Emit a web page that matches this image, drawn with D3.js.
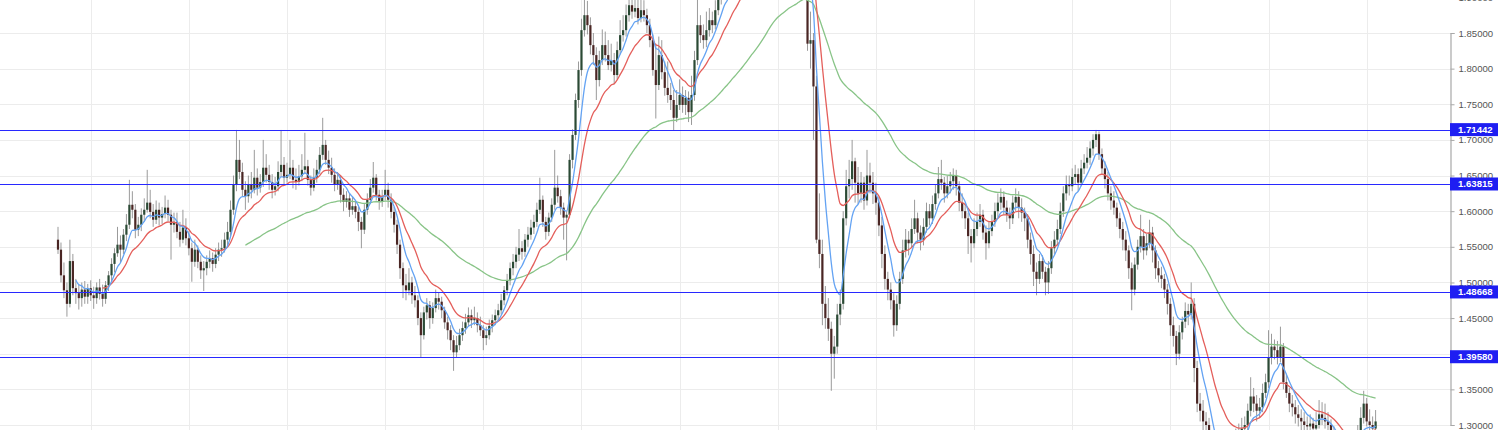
<!DOCTYPE html>
<html><head><meta charset="utf-8">
<script src="https://cdn.jsdelivr.net/npm/d3@7"></script>
<style>html,body{margin:0;padding:0;background:#fff;overflow:hidden}svg{display:block}</style>
</head><body>
<svg id="chart" width="1500" height="430"></svg>
<script>
const opens = [
1.560,1.546,1.510,1.489,1.470,1.530,1.492,1.485,1.478,1.490,
1.480,1.492,1.482,1.478,1.493,1.484,1.477,1.496,1.510,1.526,
1.541,1.553,1.546,1.567,1.581,1.609,1.602,1.574,1.581,1.595,
1.602,1.612,1.599,1.588,1.602,1.591,1.596,1.605,1.595,1.581,
1.585,1.571,1.560,1.577,1.562,1.548,1.529,1.546,1.529,1.517,
1.520,1.529,1.534,1.526,1.539,1.546,1.548,1.560,1.571,1.602,
1.637,1.672,1.655,1.630,1.621,1.637,1.630,1.647,1.633,1.641,
1.661,1.651,1.641,1.630,1.635,1.655,1.665,1.647,1.651,1.661,
1.644,1.641,1.649,1.658,1.663,1.644,1.633,1.647,1.658,1.679,
1.693,1.672,1.661,1.651,1.637,1.644,1.623,1.613,1.618,1.602,
1.607,1.599,1.585,1.574,1.602,1.616,1.633,1.647,1.623,1.613,
1.621,1.630,1.616,1.599,1.581,1.553,1.520,1.496,1.489,1.500,
1.482,1.475,1.450,1.426,1.458,1.468,1.450,1.464,1.478,1.473,
1.461,1.444,1.433,1.419,1.402,1.412,1.426,1.436,1.444,1.454,
1.447,1.450,1.440,1.433,1.422,1.426,1.439,1.447,1.454,1.461,
1.475,1.489,1.503,1.520,1.529,1.539,1.548,1.543,1.560,1.567,
1.577,1.585,1.602,1.616,1.585,1.571,1.591,1.609,1.633,1.621,
1.605,1.591,1.595,1.672,1.707,1.756,1.798,1.854,1.875,1.861,
1.833,1.819,1.784,1.812,1.833,1.819,1.805,1.812,1.791,1.826,
1.847,1.854,1.875,1.889,1.880,1.885,1.871,1.882,1.875,1.861,
1.840,1.798,1.777,1.819,1.795,1.773,1.763,1.756,1.731,1.749,
1.763,1.749,1.759,1.739,1.763,1.812,1.861,1.847,1.840,1.854,
1.868,1.861,1.882,1.900,1.912,1.925,1.918,1.935,1.945,1.938,
1.952,1.960,1.975,1.990,2.000,1.985,2.005,2.025,2.040,2.060,
2.080,2.070,2.040,2.020,1.990,1.975,1.990,1.985,1.970,1.960,
1.985,1.980,1.960,1.835,1.840,1.775,1.560,1.540,1.470,1.450,
1.435,1.400,1.410,1.455,1.470,1.590,1.635,1.645,1.670,1.640,
1.625,1.640,1.615,1.650,1.640,1.625,1.612,1.580,1.540,1.505,
1.490,1.475,1.440,1.470,1.505,1.545,1.560,1.555,1.575,1.590,
1.570,1.560,1.578,1.600,1.590,1.610,1.625,1.645,1.640,1.625,
1.635,1.642,1.650,1.635,1.612,1.600,1.590,1.565,1.555,1.575,
1.585,1.595,1.570,1.555,1.572,1.585,1.600,1.612,1.620,1.605,
1.595,1.590,1.612,1.620,1.605,1.598,1.590,1.560,1.540,1.515,
1.505,1.530,1.515,1.500,1.520,1.548,1.560,1.575,1.600,1.625,
1.638,1.635,1.648,1.652,1.640,1.660,1.668,1.675,1.688,1.700,
1.708,1.680,1.660,1.645,1.625,1.615,1.605,1.590,1.575,1.560,
1.545,1.520,1.490,1.525,1.550,1.565,1.545,1.555,1.570,1.545,
1.520,1.510,1.505,1.490,1.470,1.440,1.425,1.400,1.430,1.445,
1.460,1.455,1.470,1.380,1.330,1.320,1.305,1.300,1.270,1.245,
1.230,1.240,1.225,1.250,1.240,1.255,1.270,1.280,1.285,1.295,
1.300,1.320,1.340,1.330,1.320,1.325,1.345,1.360,1.395,1.410,
1.405,1.395,1.410,1.360,1.345,1.330,1.325,1.315,1.310,1.305,
1.300,1.298,1.302,1.295,1.300,1.315,1.310,1.305,1.300,1.290,
1.280,1.270,1.260,1.250,1.240,1.245,1.255,1.275,1.290,1.310,
1.330,1.305,1.300,1.295];
const highs = [
1.578,1.556,1.528,1.500,1.560,1.540,1.505,1.498,1.500,1.502,
1.498,1.503,1.494,1.500,1.505,1.497,1.502,1.516,1.534,1.548,
1.578,1.566,1.575,1.596,1.644,1.628,1.610,1.592,1.604,1.618,
1.658,1.630,1.610,1.615,1.612,1.606,1.622,1.616,1.602,1.598,
1.598,1.585,1.602,1.590,1.572,1.556,1.560,1.552,1.538,1.530,
1.538,1.545,1.542,1.548,1.556,1.560,1.570,1.585,1.615,1.650,
1.714,1.700,1.668,1.642,1.650,1.655,1.686,1.660,1.652,1.700,
1.680,1.665,1.652,1.648,1.670,1.714,1.676,1.668,1.700,1.672,
1.660,1.665,1.680,1.710,1.672,1.650,1.660,1.672,1.690,1.731,
1.700,1.685,1.675,1.660,1.655,1.650,1.632,1.628,1.625,1.620,
1.615,1.606,1.592,1.610,1.625,1.645,1.669,1.652,1.630,1.630,
1.658,1.640,1.625,1.606,1.588,1.560,1.528,1.512,1.520,1.508,
1.495,1.482,1.458,1.466,1.478,1.474,1.472,1.490,1.486,1.480,
1.466,1.452,1.440,1.426,1.425,1.435,1.445,1.456,1.465,1.462,
1.466,1.458,1.452,1.440,1.438,1.448,1.455,1.462,1.470,1.484,
1.495,1.512,1.528,1.540,1.550,1.575,1.558,1.568,1.578,1.588,
1.595,1.612,1.647,1.622,1.592,1.598,1.618,1.686,1.650,1.630,
1.612,1.600,1.680,1.715,1.765,1.810,1.870,1.900,1.895,1.872,
1.850,1.830,1.825,1.855,1.852,1.840,1.835,1.822,1.838,1.868,
1.875,1.890,1.910,1.905,1.915,1.898,1.905,1.896,1.884,1.870,
1.848,1.835,1.845,1.840,1.810,1.810,1.780,1.770,1.770,1.785,
1.775,1.770,1.768,1.790,1.825,1.900,1.875,1.862,1.880,1.885,
1.880,1.896,1.912,1.925,1.935,1.938,1.948,1.960,1.958,1.968,
1.975,1.990,2.005,2.015,2.010,2.020,2.040,2.055,2.075,2.110,
2.095,2.080,2.050,2.030,2.000,2.005,2.000,1.995,1.985,2.000,
1.995,1.990,1.975,1.880,1.850,1.790,1.625,1.560,1.495,1.478,
1.445,1.425,1.470,1.490,1.600,1.658,1.672,1.700,1.675,1.662,
1.655,1.648,1.686,1.668,1.655,1.640,1.620,1.592,1.552,1.515,
1.500,1.485,1.482,1.515,1.560,1.575,1.572,1.590,1.616,1.598,
1.580,1.590,1.612,1.610,1.622,1.638,1.662,1.672,1.648,1.650,
1.655,1.660,1.658,1.642,1.625,1.612,1.598,1.575,1.590,1.598,
1.610,1.602,1.580,1.585,1.595,1.612,1.625,1.632,1.628,1.615,
1.605,1.622,1.632,1.628,1.618,1.605,1.596,1.570,1.552,1.528,
1.540,1.538,1.522,1.530,1.558,1.572,1.588,1.612,1.635,1.650,
1.650,1.660,1.665,1.660,1.672,1.680,1.690,1.698,1.708,1.714,
1.712,1.688,1.670,1.655,1.635,1.628,1.612,1.598,1.585,1.572,
1.552,1.528,1.535,1.560,1.595,1.575,1.568,1.588,1.578,1.552,
1.530,1.522,1.512,1.498,1.478,1.452,1.432,1.440,1.452,1.472,
1.470,1.500,1.478,1.390,1.345,1.335,1.318,1.310,1.280,1.262,
1.262,1.250,1.262,1.260,1.268,1.285,1.295,1.302,1.310,1.312,
1.330,1.367,1.352,1.342,1.338,1.358,1.372,1.433,1.428,1.420,
1.418,1.438,1.415,1.372,1.352,1.342,1.335,1.328,1.322,1.318,
1.312,1.315,1.310,1.318,1.335,1.332,1.330,1.318,1.308,1.298,
1.290,1.282,1.272,1.262,1.258,1.268,1.285,1.300,1.325,1.348,
1.338,1.322,1.312,1.321];
const lows = [
1.540,1.500,1.478,1.452,1.465,1.482,1.470,1.462,1.466,1.470,
1.470,1.474,1.463,1.470,1.476,1.466,1.470,1.488,1.502,1.514,
1.536,1.528,1.540,1.558,1.575,1.590,1.562,1.565,1.572,1.585,
1.598,1.590,1.578,1.582,1.580,1.582,1.590,1.586,1.532,1.570,
1.562,1.550,1.555,1.552,1.538,1.501,1.522,1.520,1.505,1.488,
1.510,1.520,1.515,1.520,1.530,1.536,1.542,1.552,1.565,1.595,
1.628,1.645,1.620,1.602,1.612,1.618,1.625,1.622,1.626,1.634,
1.640,1.630,1.618,1.622,1.628,1.648,1.636,1.640,1.645,1.632,
1.630,1.636,1.642,1.652,1.636,1.622,1.628,1.640,1.652,1.672,
1.665,1.652,1.640,1.628,1.630,1.612,1.600,1.605,1.592,1.595,
1.590,1.572,1.548,1.568,1.595,1.610,1.626,1.615,1.602,1.606,
1.615,1.605,1.590,1.570,1.540,1.505,1.478,1.475,1.482,1.470,
1.465,1.440,1.394,1.420,1.448,1.435,1.442,1.458,1.462,1.450,
1.435,1.420,1.405,1.376,1.394,1.405,1.418,1.428,1.438,1.436,
1.440,1.430,1.425,1.405,1.412,1.420,1.430,1.440,1.446,1.455,
1.468,1.482,1.496,1.510,1.520,1.530,1.532,1.536,1.550,1.560,
1.568,1.578,1.596,1.578,1.560,1.565,1.585,1.602,1.612,1.595,
1.560,1.531,1.590,1.660,1.700,1.745,1.790,1.845,1.848,1.820,
1.805,1.756,1.775,1.805,1.810,1.798,1.796,1.778,1.785,1.820,
1.838,1.845,1.866,1.870,1.872,1.862,1.865,1.866,1.850,1.830,
1.790,1.730,1.770,1.785,1.762,1.752,1.742,1.713,1.725,1.742,
1.738,1.735,1.725,1.721,1.755,1.805,1.836,1.828,1.830,1.845,
1.850,1.855,1.875,1.890,1.902,1.905,1.910,1.925,1.925,1.930,
1.940,1.950,1.965,1.978,1.970,1.975,1.995,2.015,2.030,2.050,
2.055,2.030,2.005,1.975,1.960,1.965,1.970,1.955,1.945,1.955,
1.965,1.950,1.825,1.800,1.700,1.555,1.520,1.440,1.435,1.418,
1.348,1.365,1.400,1.440,1.462,1.580,1.618,1.630,1.612,1.610,
1.612,1.602,1.608,1.625,1.610,1.595,1.565,1.520,1.490,1.475,
1.462,1.424,1.432,1.462,1.498,1.535,1.538,1.548,1.568,1.555,
1.545,1.552,1.570,1.580,1.582,1.602,1.618,1.630,1.612,1.618,
1.625,1.630,1.622,1.600,1.590,1.575,1.540,1.528,1.548,1.565,
1.578,1.560,1.532,1.548,1.565,1.578,1.592,1.602,1.595,1.585,
1.575,1.582,1.600,1.590,1.585,1.572,1.548,1.525,1.495,1.482,
1.498,1.505,1.482,1.484,1.512,1.540,1.552,1.568,1.592,1.615,
1.622,1.628,1.638,1.628,1.635,1.652,1.660,1.665,1.678,1.690,
1.672,1.652,1.632,1.615,1.602,1.595,1.578,1.562,1.545,1.530,
1.505,1.461,1.482,1.518,1.542,1.532,1.538,1.548,1.528,1.505,
1.500,1.492,1.478,1.455,1.425,1.410,1.384,1.392,1.420,1.436,
1.440,1.448,1.360,1.318,1.305,1.292,1.285,1.255,1.200,1.210,
1.220,1.200,1.218,1.225,1.232,1.248,1.262,1.272,1.278,1.285,
1.290,1.312,1.318,1.305,1.310,1.318,1.338,1.352,1.385,1.392,
1.385,1.388,1.350,1.338,1.318,1.312,1.302,1.298,1.292,1.290,
1.288,1.290,1.285,1.288,1.295,1.300,1.295,1.290,1.278,1.268,
1.262,1.252,1.240,1.228,1.232,1.238,1.250,1.268,1.282,1.302,
1.298,1.292,1.285,1.290];
const closes = [
1.546,1.510,1.489,1.470,1.530,1.492,1.485,1.478,1.490,1.480,
1.492,1.482,1.478,1.493,1.484,1.477,1.496,1.510,1.526,1.541,
1.553,1.546,1.567,1.581,1.609,1.602,1.574,1.581,1.595,1.602,
1.612,1.599,1.588,1.602,1.591,1.596,1.605,1.595,1.581,1.585,
1.571,1.560,1.577,1.562,1.548,1.529,1.546,1.529,1.517,1.520,
1.529,1.534,1.526,1.539,1.546,1.548,1.560,1.571,1.602,1.637,
1.672,1.655,1.630,1.621,1.637,1.630,1.647,1.633,1.641,1.661,
1.651,1.641,1.630,1.635,1.655,1.665,1.647,1.651,1.661,1.644,
1.641,1.649,1.658,1.663,1.644,1.633,1.647,1.658,1.679,1.693,
1.672,1.661,1.651,1.637,1.644,1.623,1.613,1.618,1.602,1.607,
1.599,1.585,1.574,1.602,1.616,1.633,1.647,1.623,1.613,1.621,
1.630,1.616,1.599,1.581,1.553,1.520,1.496,1.489,1.500,1.482,
1.475,1.450,1.426,1.458,1.468,1.450,1.464,1.478,1.473,1.461,
1.444,1.433,1.419,1.402,1.412,1.426,1.436,1.444,1.454,1.447,
1.450,1.440,1.433,1.422,1.426,1.439,1.447,1.454,1.461,1.475,
1.489,1.503,1.520,1.529,1.539,1.548,1.543,1.560,1.567,1.577,
1.585,1.602,1.616,1.585,1.571,1.591,1.609,1.633,1.621,1.605,
1.591,1.595,1.672,1.707,1.756,1.798,1.854,1.875,1.861,1.833,
1.819,1.784,1.812,1.833,1.819,1.805,1.812,1.791,1.826,1.847,
1.854,1.875,1.889,1.880,1.885,1.871,1.882,1.875,1.861,1.840,
1.798,1.777,1.819,1.795,1.773,1.763,1.756,1.731,1.749,1.763,
1.749,1.759,1.739,1.763,1.812,1.861,1.847,1.840,1.854,1.868,
1.861,1.882,1.900,1.912,1.925,1.918,1.935,1.945,1.938,1.952,
1.960,1.975,1.990,2.000,1.985,2.005,2.025,2.040,2.060,2.080,
2.070,2.040,2.020,1.990,1.975,1.990,1.985,1.970,1.960,1.985,
1.980,1.960,1.835,1.840,1.775,1.560,1.540,1.470,1.450,1.435,
1.400,1.410,1.455,1.470,1.590,1.635,1.645,1.670,1.640,1.625,
1.640,1.615,1.650,1.640,1.625,1.612,1.580,1.540,1.505,1.490,
1.475,1.440,1.470,1.505,1.545,1.560,1.555,1.575,1.590,1.570,
1.560,1.578,1.600,1.590,1.610,1.625,1.645,1.640,1.625,1.635,
1.642,1.650,1.635,1.612,1.600,1.590,1.565,1.555,1.575,1.585,
1.595,1.570,1.555,1.572,1.585,1.600,1.612,1.620,1.605,1.595,
1.590,1.612,1.620,1.605,1.598,1.590,1.560,1.540,1.515,1.505,
1.530,1.515,1.500,1.520,1.548,1.560,1.575,1.600,1.625,1.638,
1.635,1.648,1.652,1.640,1.660,1.668,1.675,1.688,1.700,1.708,
1.680,1.660,1.645,1.625,1.615,1.605,1.590,1.575,1.560,1.545,
1.520,1.490,1.525,1.550,1.565,1.545,1.555,1.570,1.545,1.520,
1.510,1.505,1.490,1.470,1.440,1.425,1.400,1.430,1.445,1.460,
1.455,1.470,1.380,1.330,1.320,1.305,1.300,1.270,1.245,1.230,
1.240,1.225,1.250,1.240,1.255,1.270,1.280,1.285,1.295,1.300,
1.320,1.340,1.330,1.320,1.325,1.345,1.360,1.395,1.410,1.405,
1.395,1.410,1.360,1.345,1.330,1.325,1.315,1.310,1.305,1.300,
1.298,1.302,1.295,1.300,1.315,1.310,1.305,1.300,1.290,1.280,
1.270,1.260,1.250,1.240,1.245,1.255,1.275,1.290,1.310,1.330,
1.305,1.300,1.295,1.305];

// y-axis tick labels (price levels)
const priceTicks = [1.30,1.35,1.40,1.45,1.50,1.55,1.60,1.65,1.70,1.75,1.80,1.85,1.90];
// vertical grid positions (bar index)
const timeTicks = [11,44,77,110,143,176,209,242,275,308,341,374,407,440];
// horizontal levels drawn on chart
const levels = [1.71442,1.63815,1.48668,1.39580];
// moving-average lengths (in bars)
const maFast = 7, maMid = 16, maSlow = 64;

const W = 1500, H = 430, axisX = 1450;
const svg = d3.select('#chart');
const n = closes.length;
const x = d3.scaleLinear().domain([0, n - 1]).range([58, 1375.6]);
const y = d3.scaleLinear().domain([1.30, 1.85]).range([425, 33]);

svg.append('defs').append('clipPath').attr('id', 'clip')
  .append('rect').attr('x', 0).attr('y', 0).attr('width', axisX).attr('height', H);

// grid
const grid = svg.append('g');
grid.selectAll('line.h').data(priceTicks).join('line')
  .attr('x1', 0).attr('x2', axisX)
  .attr('y1', d => Math.round(y(d)) + 0.5).attr('y2', d => Math.round(y(d)) + 0.5)
  .attr('stroke', '#ececec').attr('stroke-width', 1);
grid.selectAll('line.v').data(timeTicks).join('line')
  .attr('y1', 0).attr('y2', H)
  .attr('x1', d => Math.round(x(d)) + 0.5).attr('x2', d => Math.round(x(d)) + 0.5)
  .attr('stroke', '#ececec').attr('stroke-width', 1);

const plot = svg.append('g').attr('clip-path', 'url(#clip)');

// candles
const idx = d3.range(n);
plot.append('g').selectAll('line').data(idx).join('line')
  .attr('x1', i => x(i)).attr('x2', i => x(i))
  .attr('y1', i => y(highs[i])).attr('y2', i => y(lows[i]))
  .attr('stroke', '#9a9a9a').attr('stroke-width', 1);
plot.append('g').selectAll('rect').data(idx).join('rect')
  .attr('x', i => x(i) - 1.1).attr('width', 2.2)
  .attr('y', i => y(Math.max(opens[i], closes[i])))
  .attr('height', i => Math.max(1, Math.abs(y(opens[i]) - y(closes[i]))))
  .attr('fill', i => closes[i] >= opens[i] ? '#2b4a35' : '#4a2624');

// EMA
function ema(vals, len) {
  const a = 2 / (len + 1);
  const out = new Array(vals.length).fill(null);
  if (vals.length < len) return out;
  let e = d3.mean(vals.slice(0, len));
  out[len - 1] = e;
  for (let i = len; i < vals.length; i++) { e = a * vals[i] + (1 - a) * e; out[i] = e; }
  return out;
}
const line = d3.line().defined(d => d != null).x((d, i) => x(i)).y(d => y(d)).curve(d3.curveMonotoneX);
[[maSlow, '#88c487'], [maMid, '#e45f5b'], [maFast, '#64a3f3']].forEach(([len, col]) => {
  plot.append('path').datum(ema(closes, len))
    .attr('d', line).attr('fill', 'none').attr('stroke', col).attr('stroke-width', 1.3);
});

// horizontal levels
plot.append('g').selectAll('line').data(levels).join('line')
  .attr('x1', 0).attr('x2', axisX)
  .attr('y1', d => Math.round(y(d)) + 0.5).attr('y2', d => Math.round(y(d)) + 0.5)
  .attr('stroke', '#2828ff').attr('stroke-width', 1);

// price axis
const axis = d3.axisRight(y).tickValues(priceTicks).tickFormat(d3.format('.5f')).tickSize(4).tickPadding(4);
const ag = svg.append('g').attr('transform', `translate(${axisX + 0.5},0)`).call(axis);
ag.select('.domain').attr('stroke', '#a8a8a8').attr('stroke-width', 1.2);
ag.selectAll('.tick line').attr('stroke', '#a8a8a8');
ag.selectAll('.tick text').attr('fill', '#555').attr('font-size', '9.6px')
  .attr('font-family', 'Liberation Sans, Arial, sans-serif');

// level labels
const lab = svg.append('g');
lab.selectAll('rect').data(levels).join('rect')
  .attr('x', axisX).attr('y', d => y(d) - 6.5).attr('width', 48).attr('height', 13)
  .attr('fill', '#1e1ef2');
lab.selectAll('text').data(levels).join('text')
  .attr('x', axisX + 8).attr('y', d => y(d)).attr('dy', '0.35em')
  .attr('fill', '#fff').attr('font-size', '9.6px').attr('font-weight', 'bold')
  .attr('font-family', 'Liberation Sans, Arial, sans-serif')
  .text(d => d3.format('.5f')(d));
</script>
</body></html>
